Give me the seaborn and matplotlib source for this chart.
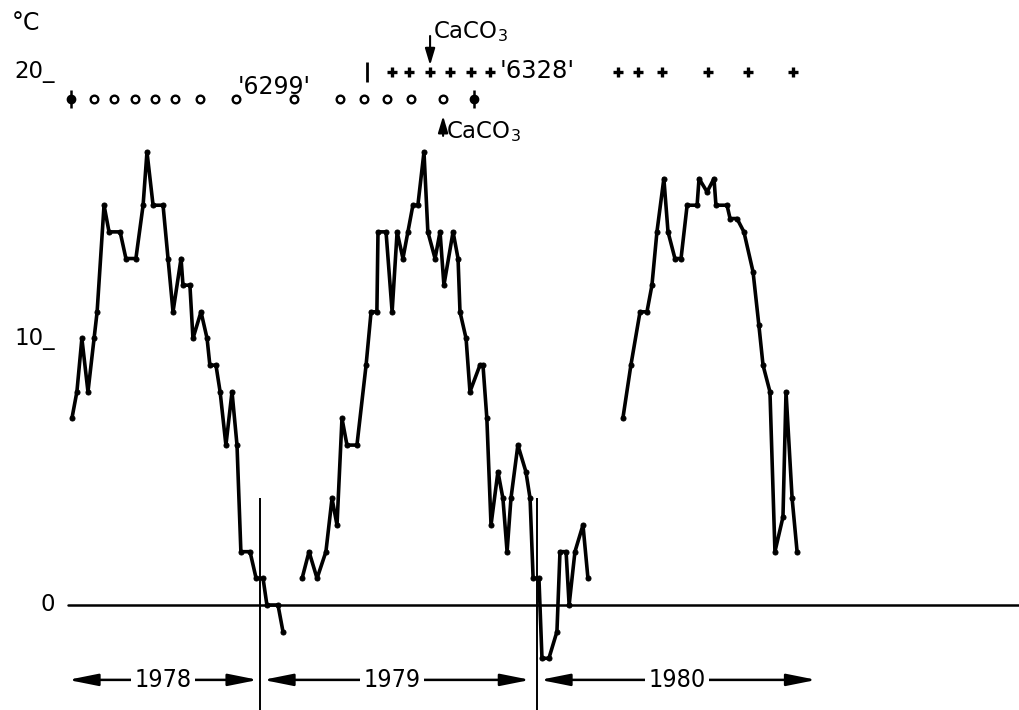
import matplotlib
matplotlib.use("Agg")
import matplotlib.pyplot as plt
import numpy as np
import pandas as pd
import seaborn as sns

# ---------------- data (decimal year, water temperature degC) ----------------
t78 = [1978.321, 1978.339, 1978.357, 1978.379, 1978.401, 1978.412, 1978.437, 1978.455,
       1978.495, 1978.516, 1978.552, 1978.578, 1978.592, 1978.614, 1978.650, 1978.668,
       1978.686, 1978.715, 1978.722, 1978.747, 1978.758, 1978.787, 1978.809, 1978.819,
       1978.841, 1978.856, 1978.877, 1978.899, 1978.917, 1978.931, 1978.964, 1978.986,
       1979.011, 1979.025, 1979.065, 1979.083]
v78 = [7, 8, 10, 8, 10, 11, 15, 14, 14, 13, 13, 15, 17, 15, 15, 13, 11, 13,
       12, 12, 10, 11, 10, 9, 9, 8, 6, 8, 6, 2, 2, 1, 1, 0, 0, -1]

t79 = [1979.152, 1979.177, 1979.206, 1979.238, 1979.260, 1979.278, 1979.296, 1979.314,
       1979.350, 1979.383, 1979.401, 1979.422, 1979.426, 1979.455, 1979.477, 1979.495,
       1979.516, 1979.534, 1979.552, 1979.570, 1979.592, 1979.606, 1979.632, 1979.650,
       1979.664, 1979.697, 1979.715, 1979.722, 1979.744, 1979.758, 1979.794, 1979.805,
       1979.819, 1979.834, 1979.859, 1979.877, 1979.892, 1979.906, 1979.931, 1979.960,
       1979.975, 1979.986, 1980.007, 1980.018, 1980.043, 1980.072, 1980.083, 1980.105,
       1980.116, 1980.137, 1980.166, 1980.184]
v79 = [1, 2, 1, 2, 4, 3, 7, 6, 6, 9, 11, 11, 14, 14, 11, 14, 13, 14,
       15, 15, 17, 14, 13, 14, 12, 14, 13, 11, 10, 8, 9, 9, 7, 3, 5, 4,
       2, 4, 6, 5, 4, 1, 1, -2, -2, -1, 2, 2, 0, 2, 3, 1]

t80 = [1980.310, 1980.339, 1980.372, 1980.397, 1980.415, 1980.433, 1980.458, 1980.473,
       1980.498, 1980.520, 1980.542, 1980.578, 1980.585, 1980.614, 1980.639, 1980.646,
       1980.686, 1980.697, 1980.722, 1980.747, 1980.780, 1980.801, 1980.816, 1980.841,
       1980.859, 1980.888, 1980.899, 1980.921, 1980.939]
v80 = [7, 9, 11, 11, 12, 14, 16, 14, 13, 13, 15, 15, 16, 15.5, 16, 15, 15, 14.5,
       14.5, 14, 12.5, 10.5, 9, 8, 2, 3.3, 8, 4, 2]

# sampling markers on top
circle_t = [1978.401, 1978.473, 1978.549, 1978.621, 1978.693, 1978.783, 1978.913,
            1979.123, 1979.289, 1979.375, 1979.458, 1979.545, 1979.661]
phi_t = [1978.318, 1979.773]
plus_t = [1979.477, 1979.538, 1979.614, 1979.686, 1979.762, 1979.830,
          1980.292, 1980.365, 1980.451, 1980.617, 1980.762, 1980.924]
bar_t = [1979.386]
CIRCLE_ROW = 19
PLUS_ROW = 20

year_bounds = [1979.0, 1980.0]
year_labels = ["1978", "1979", "1980"]
ytick_vals = [0, 10, 20]
ytick_text = ["0", "10_", "20_"]

# ---------------- figure ----------------
sns.set_style("white")
plt.rcParams["font.family"] = ["DejaVu Sans"]
plt.rcParams["text.color"] = "black"

fig = plt.figure(figsize=(10.2, 7.1), dpi=100)
ax = fig.add_axes([0, 0, 1, 1])
ax.set_xlim(1978.0614, 1981.7437)
ax.set_ylim(-3.94, 22.70)
ax.axis("off")

df = pd.concat([
    pd.DataFrame({"year": t78, "temp": v78, "seg": "a"}),
    pd.DataFrame({"year": t79, "temp": v79, "seg": "b"}),
    pd.DataFrame({"year": t80, "temp": v80, "seg": "c"}),
], ignore_index=True)

sns.lineplot(data=df, x="year", y="temp", units="seg", estimator=None, sort=False,
             color="black", lw=2.6, marker="o", markersize=3.6,
             markeredgecolor="black", markerfacecolor="black", ax=ax, legend=False)

# zero line and year separators
ax.axhline(0, xmin=68 / 1020, xmax=1, color="black", lw=1.8)
ax.vlines(year_bounds, -4, 4.0, color="black", lw=1.4)

# top marker rows
ax.plot(circle_t, [CIRCLE_ROW] * len(circle_t), ls="none", marker="o", ms=5.5,
        mfc="white", mec="black", mew=1.7)
ax.plot(phi_t, [CIRCLE_ROW] * len(phi_t), ls="none", marker="|", ms=13,
        mec="black", mew=1.8)
ax.plot(phi_t, [CIRCLE_ROW] * len(phi_t), ls="none", marker="o", ms=6,
        mfc="black", mec="black")
ax.plot(plus_t, [PLUS_ROW] * len(plus_t), ls="none", marker="+", ms=7.5,
        mec="black", mew=2.4)
ax.plot(bar_t, [PLUS_ROW] * len(bar_t), ls="none", marker="|", ms=15,
        mec="black", mew=2)

# y tick labels
ytr = ax.get_yaxis_transform()
for v, s in zip(ytick_vals, ytick_text):
    ax.text(0.054, v, s, transform=ytr, ha="right", va="center", fontsize=16.5)
ax.text(0.012, 21.85, "°C", transform=ytr, ha="left", va="center", fontsize=17)

# sample labels
ax.text(1978.921, 19.45, "'6299'", ha="left", va="center", fontsize=17)
ax.text(1979.866, 20.05, "'6328'", ha="left", va="center", fontsize=17.5)

# CaCO3 annotations
arrow_kw = dict(arrowstyle="-|>,head_length=0.5,head_width=0.15",
                mutation_scale=20, lw=1.5, color="black", shrinkA=0, shrinkB=0)
ax.annotate("", xy=(1979.614, 20.25), xytext=(1979.614, 21.35), arrowprops=arrow_kw)
ax.text(1979.624, 21.5, "CaCO$_3$", ha="left", va="center", fontsize=16.5)
ax.annotate("", xy=(1979.661, 18.35), xytext=(1979.661, 17.6), arrowprops=arrow_kw)
ax.text(1979.672, 17.75, "CaCO$_3$", ha="left", va="center", fontsize=16.5)

# year arrows
YROW = -2.81
spans = [(1978.307, 1978.993, 1978.650),
         (1979.011, 1979.976, 1979.477),
         (1980.011, 1981.009, 1980.505)]
for (x0, x1, xc), lab in zip(spans, year_labels):
    ax.annotate("", xy=(x0, YROW), xytext=(x1, YROW),
                arrowprops=dict(arrowstyle="<|-|>,head_length=0.9,head_width=0.18",
                                mutation_scale=20, lw=1.8, color="black",
                                shrinkA=0, shrinkB=0))
    ax.text(xc, YROW, lab, ha="center", va="center", fontsize=18, fontstretch="condensed",
            bbox=dict(fc="white", ec="none", pad=2.5))

fig.savefig("out.png", dpi=100)
